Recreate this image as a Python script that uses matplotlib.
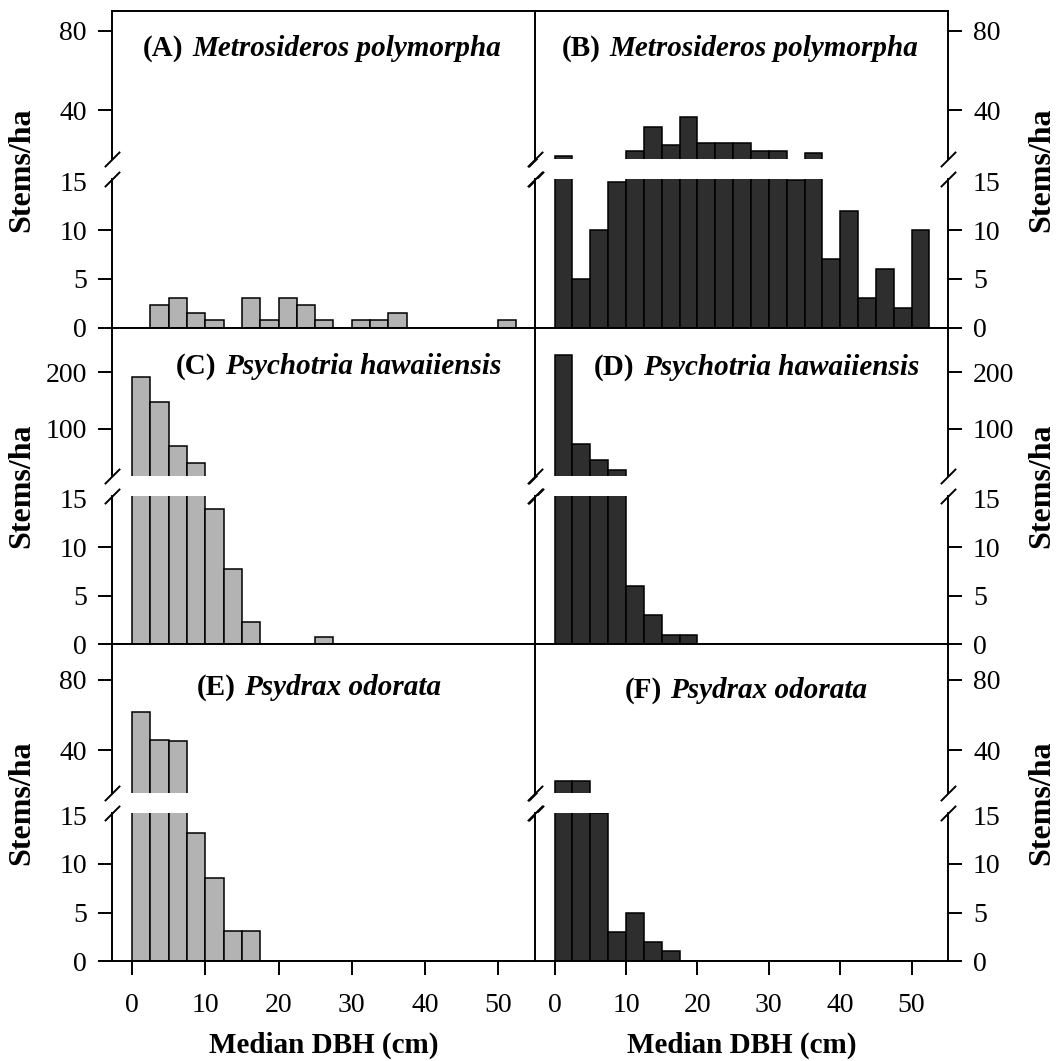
import matplotlib
matplotlib.use('Agg')
import matplotlib.pyplot as plt

plt.rcParams['font.family'] = 'Liberation Serif'

# bin left edges (2.5 cm DBH classes)
bins = [0, 2.5, 5, 7.5, 10, 12.5, 15, 17.5, 20, 22.5, 25,
        27.5, 30, 32.5, 35, 37.5, 40, 42.5, 45, 47.5, 50]

# stems/ha per class
a_vals = [0, 2.31, 3.08, 1.54, 0.77, 0, 3.08, 0.77, 3.08, 2.31, 0.77,
          0, 0.77, 0.77, 1.54, 0, 0, 0, 0, 0, 0.77]
b_vals = [17, 5, 10, 15, 19.5, 31.6, 22.8, 36.8, 23.7, 23.7, 23.7,
          19.5, 19.5, 15.2, 18.6, 7, 12, 3, 6, 2, 10]
c_vals = [192, 148, 69, 39, 13.9, 7.7, 2.3, 0, 0, 0, 0.77,
          0, 0, 0, 0, 0, 0, 0, 0, 0, 0]
d_vals = [231, 72, 45, 26.5, 6, 3, 1, 1, 0, 0, 0,
          0, 0, 0, 0, 0, 0, 0, 0, 0, 0]
e_vals = [62, 45.7, 45.2, 13.2, 8.5, 3.1, 3.1, 0, 0, 0, 0,
          0, 0, 0, 0, 0, 0, 0, 0, 0, 0]
f_vals = [22.6, 22.6, 15.2, 3, 5, 2, 1, 0, 0, 0, 0,
          0, 0, 0, 0, 0, 0, 0, 0, 0, 0]

letters = ['(A)', '(B)', '(C)', '(D)', '(E)', '(F)']
species = ['Metrosideros polymorpha', 'Metrosideros polymorpha',
           'Psychotria hawaiiensis', 'Psychotria hawaiiensis',
           'Psydrax odorata', 'Psydrax odorata']
values = [a_vals, b_vals, c_vals, d_vals, e_vals, f_vals]

upper_lim = [(15.5, 90), (15.5, 280), (16, 100)]
upper_ticks = [[40, 80], [100, 200], [40, 80]]
x_ticks = [0, 10, 20, 30, 40, 50]

# title placement: left edge (data x) and baseline (axes fraction)
title_x = [1.5, 1.0, 6.0, 5.5, 8.8, 9.8]
title_y = [0.70, 0.70, 0.69, 0.68, 0.66, 0.64]

fills = ['#b3b3b3', '#2e2e2e']

W, H = 1064, 1061
fig = plt.figure(figsize=(W / 100, H / 100), dpi=100)

cols = [(112, 535.5), (535, 948)]
top0, row_h, up_h, gap = 10.7, 316.8, 148.6, 20.0
low_h = row_h - up_h - gap


def add_ax(x0, x1, ytop, h):
    return fig.add_axes([x0 / W, 1 - (ytop + h) / H, (x1 - x0) / W, h / H])


brk = dict(marker=[(-1, -1), (1, 1)], markersize=11, linestyle='none',
           color='k', mec='k', mew=1.4, clip_on=False)

for i in range(6):
    r, c = i // 2, i % 2
    x0, x1 = cols[c]
    ytop = top0 + r * row_h
    up = add_ax(x0, x1, ytop, up_h)
    lo = add_ax(x0, x1, ytop + up_h + gap, low_h)

    for ax in (up, lo):
        ax.bar(bins, values[i], width=2.5, align='edge', color=fills[c],
               edgecolor='black', linewidth=1.1)
        ax.set_xlim(-2.75, 55.1)
        for s in ax.spines.values():
            s.set_linewidth(1.4)
        ax.tick_params(axis='both', direction='out', length=10, width=1.4,
                       labelsize=20, pad=8)
        if c == 1:
            ax.yaxis.tick_right()

    up.set_ylim(*upper_lim[r])
    up.set_yticks(upper_ticks[r])
    up.spines['bottom'].set_visible(False)
    up.tick_params(axis='x', bottom=False, labelbottom=False)

    lo.set_ylim(0, 15.25)
    lo.set_yticks([0, 5, 10, 15])
    t15 = lo.yaxis.get_major_ticks()[3]
    t15.tick1line.set_visible(False)
    t15.tick2line.set_visible(False)
    lo.spines['top'].set_visible(False)
    lo.set_xticks(x_ticks)
    lo.tick_params(axis='x', pad=13)
    if r < 2:
        lo.tick_params(axis='x', labelbottom=False)
    else:
        lo.set_xlabel('Median DBH (cm)', fontsize=21, fontweight='bold',
                      labelpad=10)

    # break marks on both side spines
    up.plot([0, 1], [0, 0], transform=up.transAxes, **brk)
    lo.plot([0, 1], [1, 1], transform=lo.transAxes, **brk)

    t = up.text(title_x[i], title_y[i], letters[i],
                transform=up.get_xaxis_transform(), fontsize=21,
                fontweight='bold', ha='left', va='baseline')
    up.annotate(species[i], xy=(1, 0), xycoords=t, xytext=(6, 0),
                textcoords='offset points', fontsize=21, fontweight='bold',
                style='italic', ha='left', va='bottom')

    # y label centred on the break
    yc = 1 - (ytop + up_h + gap / 2) / H
    xl = 21.5 / W if c == 0 else 1042 / W
    fig.text(xl, yc, 'Stems/ha', rotation=90, ha='center', va='center',
             fontsize=23, fontweight='bold')

fig.savefig('out.png', dpi=100)
